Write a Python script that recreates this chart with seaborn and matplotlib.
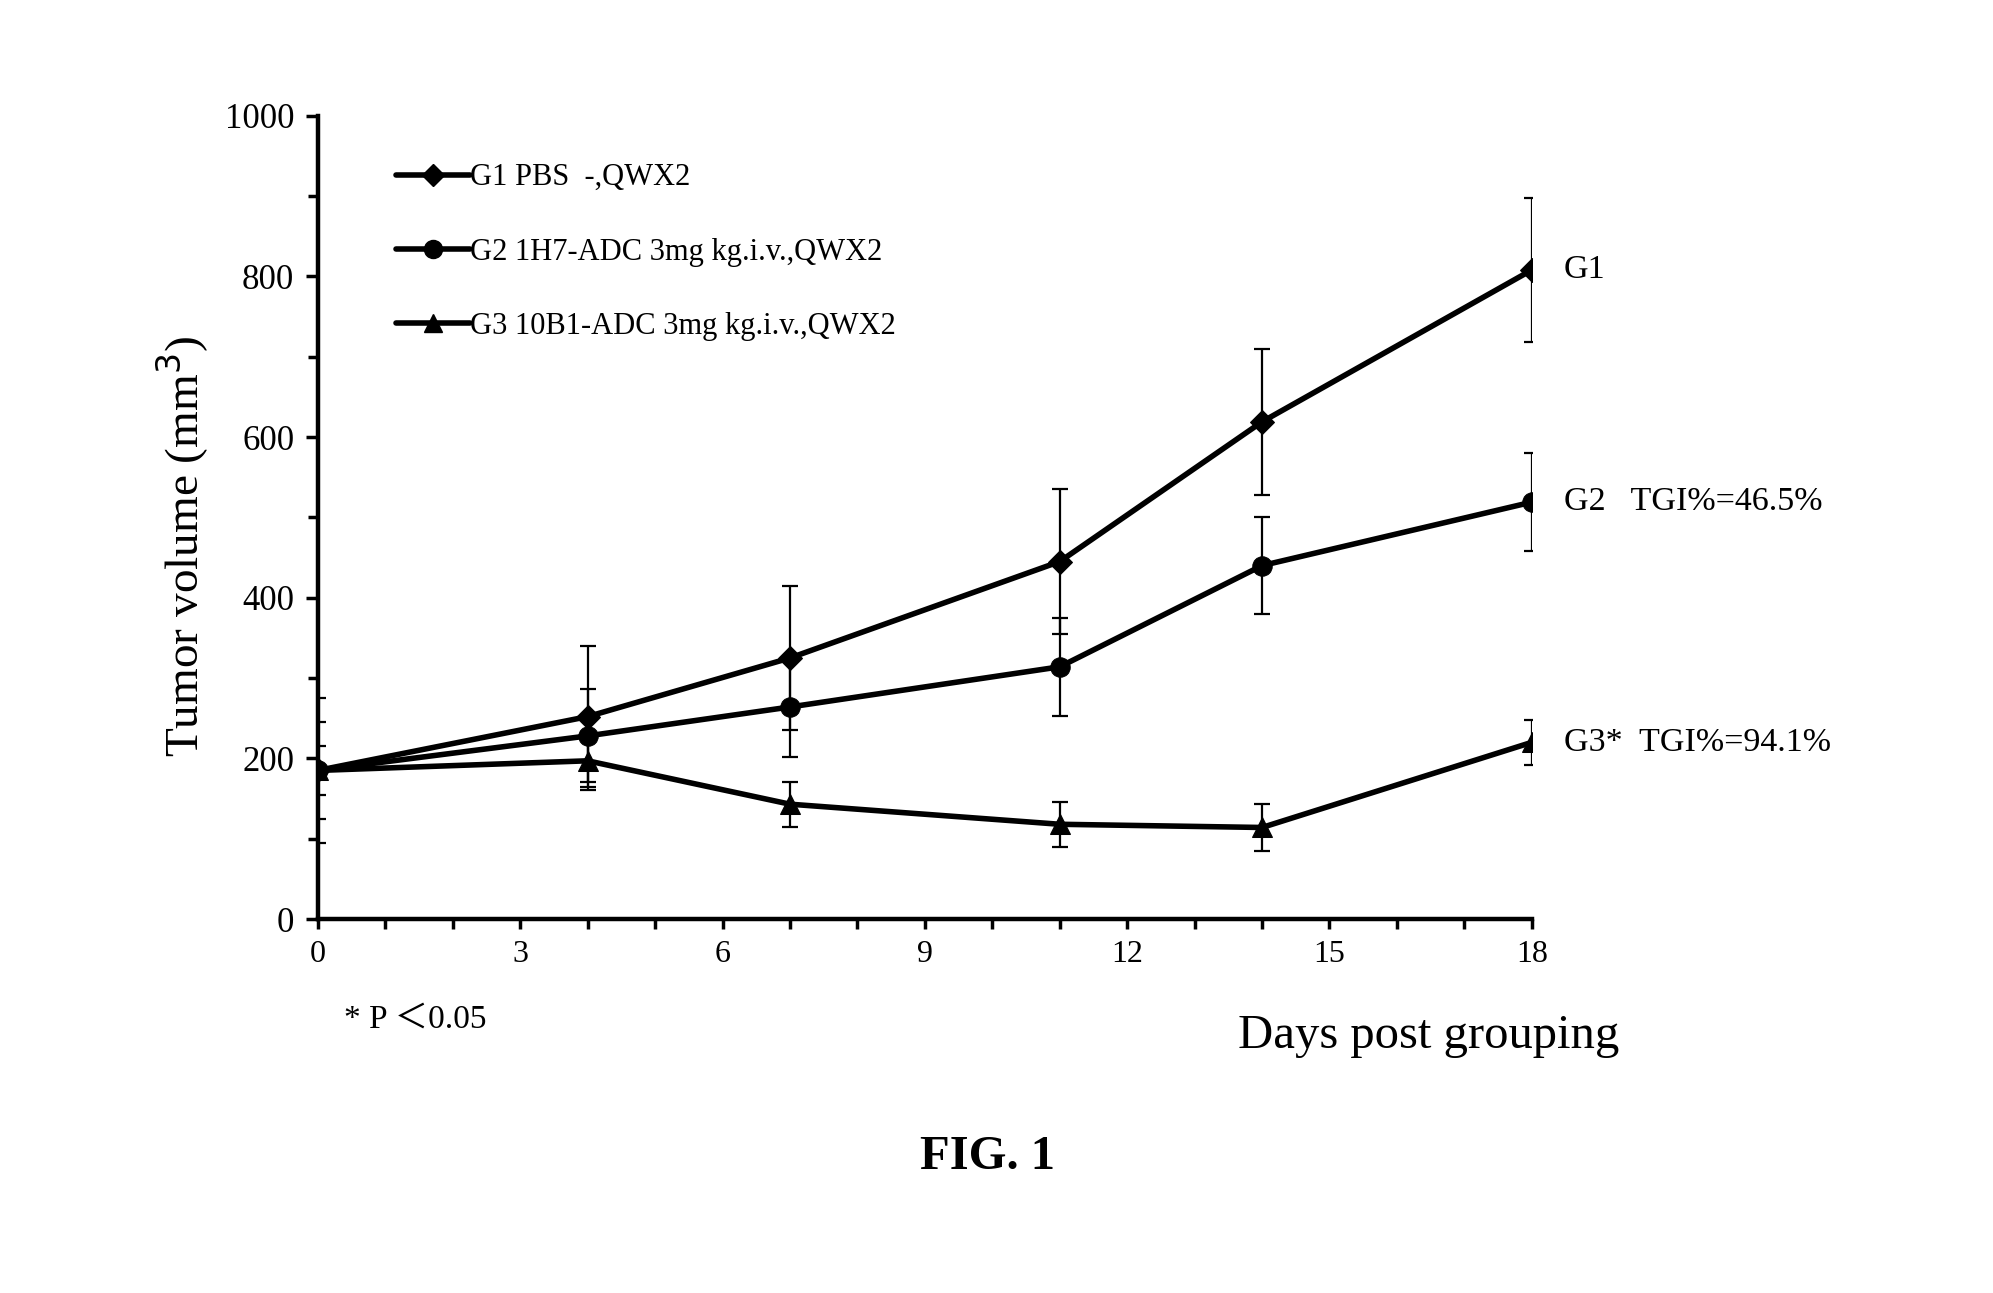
import matplotlib
matplotlib.use("Agg")
import matplotlib.pyplot as plt
import numpy as np
import pandas as pd
import seaborn as sns
from matplotlib.ticker import MultipleLocator

days = [0, 4, 7, 11, 14, 18]
groups = ["G1 PBS  -,QWX2",
          "G2 1H7-ADC 3mg kg.i.v.,QWX2",
          "G3 10B1-ADC 3mg kg.i.v.,QWX2"]
g1_mean = [185, 252, 325, 445, 619, 808]
g1_err = [90, 88, 90, 90, 91, 90]
g2_mean = [185, 228, 264, 314, 440, 519]
g2_err = [60, 58, 62, 61, 60, 61]
g3_mean = [185, 197, 143, 118, 114, 220]
g3_err = [30, 36, 28, 28, 29, 28]
end_labels = ["G1", "G2   TGI%=46.5%", "G3*  TGI%=94.1%"]

means = [g1_mean, g2_mean, g3_mean]
errs = [g1_err, g2_err, g3_err]
markers = ["D", "o", "^"]
msizes = [12, 14, 14]

df = pd.DataFrame({
    "day": days * 3,
    "volume": g1_mean + g2_mean + g3_mean,
    "group": [g for g in groups for _ in days],
})

sns.set_style("ticks")
plt.rcParams["font.family"] = ["Liberation Serif", "Noto Sans CJK SC"]
for k in ["text.color", "axes.labelcolor", "xtick.color", "ytick.color",
          "axes.edgecolor"]:
    plt.rcParams[k] = "black"

fig = plt.figure(figsize=(19.93, 12.93), dpi=100)
ax = fig.add_axes([0.1595, 0.2892, 0.6091, 0.6213])

# error bars first so lines sit on top
for m, e in zip(means, errs):
    ax.errorbar(days, m, yerr=e, fmt="none", ecolor="black",
                elinewidth=1.6, capsize=6, capthick=1.6, zorder=2)

handles = []
for g, mk, ms in zip(groups, markers, msizes):
    sub = df[df["group"] == g]
    sns.lineplot(data=sub, x="day", y="volume", color="black",
                 marker=mk, markersize=ms, markeredgecolor="black",
                 linewidth=4, ax=ax, zorder=3, legend=False)
    h, = ax.plot([], [], color="black", lw=4, marker=mk, markersize=ms - 1)
    handles.append(h)

leg = ax.legend(handles, groups, loc="upper left",
                bbox_to_anchor=(0.042, 0.975), frameon=False,
                fontsize=22, handlelength=2.4, handletextpad=0.0,
                labelspacing=1.48)

ax.set_xlim(0, 18)
ax.set_ylim(0, 1000)
ax.xaxis.set_major_locator(MultipleLocator(3))
ax.xaxis.set_minor_locator(MultipleLocator(1))
ax.yaxis.set_major_locator(MultipleLocator(200))
ax.yaxis.set_minor_locator(MultipleLocator(100))
ax.tick_params(axis="both", which="both", direction="out", width=2.5)
ax.tick_params(axis="y", which="major", length=9, labelsize=25, pad=8)
ax.tick_params(axis="y", which="minor", length=7)
ax.tick_params(axis="x", which="both", length=7, labelsize=23, pad=8)

for side in ["top", "right"]:
    ax.spines[side].set_visible(False)
for side in ["left", "bottom"]:
    ax.spines[side].set_linewidth(3.2)
ax.spines["bottom"].set_bounds(0, 18)

ax.set_xlabel("")
ax.set_ylabel("Tumor volume (mm$^3$)", fontsize=34)
ax.yaxis.set_label_coords(-0.088, 0.4636)

for m, lab in zip(means, end_labels):
    ax.annotate(lab, xy=(18, m[-1]), xytext=(23, 0),
                textcoords="offset points", va="center", ha="left",
                fontsize=24.5)

fig.text(0.1725, 0.212, "* P \uff1c0.05", fontsize=24, ha="left",
         va="center")
fig.text(0.717, 0.1986, "Days post grouping", fontsize=35, ha="center",
         va="center")
fig.text(0.4955, 0.105, "FIG. 1", fontsize=35, ha="center", va="center",
         fontweight="bold")

fig.savefig("out.png", dpi=100, facecolor="white")
